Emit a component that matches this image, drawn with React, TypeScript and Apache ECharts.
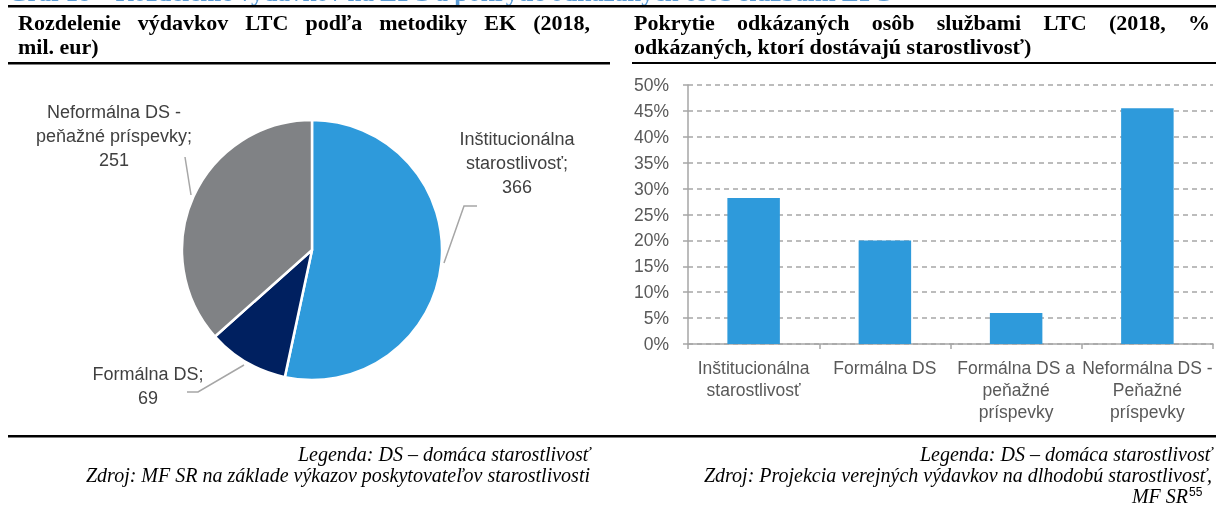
import React, { useEffect, useRef } from "react";
import * as echarts from "echarts";

// ---------- data ----------
const pieNames = ["Inštitucionálna starostlivosť", "Formálna DS", "Neformálna DS - peňažné príspevky"];
const pieLabels = ["Inštitucionálna\nstarostlivosť;\n366", "Formálna DS;\n69", "Neformálna DS -\npeňažné príspevky;\n251"];
const pieValues = [366, 69, 251];
const pieColors = ["#2E9ADB", "#002060", "#808285"];

const barCategories = [
  "Inštitucionálna\nstarostlivosť",
  "Formálna DS",
  "Formálna DS a\npeňažné\npríspevky",
  "Neformálna DS -\nPeňažné\npríspevky",
];
const barValues = [28.2, 20.0, 6.0, 45.5];

const headerText = "Graf 18 – Rozdelenie výdavkov na LTC a pokrytie odkázaných osôb službami LTC";
const leftTitle1 = "Rozdelenie výdavkov LTC podľa metodiky EK (2018,";
const leftTitle2 = "mil. eur)";
const rightTitle1 = "Pokrytie odkázaných osôb službami LTC (2018, %";
const rightTitle2 = "odkázaných, ktorí dostávajú starostlivosť)";
const leftFoot1 = "Legenda: DS – domáca starostlivosť";
const leftFoot2 = "Zdroj: MF SR na základe výkazov poskytovateľov starostlivosti";
const rightFoot1 = "Legenda: DS – domáca starostlivosť";
const rightFoot2 = "Zdroj: Projekcia verejných výdavkov na dlhodobú starostlivosť,";
const rightFoot3 = "MF SR";
const rightFoot3Sup = "55";

// label layout (positions only)
const pieLabelPos = [
  [517, 163],
  [148, 386],
  [114, 136],
];
const pieLabelLines = [
  [[444, 263], [464, 206], [477, 206]],
  [[244, 365], [198, 392], [187, 392]],
  [[191, 195], [185, 157]],
];

const SERIF = "'Liberation Serif', 'Times New Roman', serif";
const SANS = "'Liberation Sans', Arial, sans-serif";

function justify(text: string, x0: number, x1: number, y: number, font: string, style: any) {
  const words = text.split(" ");
  const c = document.createElement("canvas").getContext("2d")!;
  c.font = font;
  const widths = words.map((w) => c.measureText(w).width);
  const total = widths.reduce((a, b) => a + b, 0);
  const gap = words.length > 1 ? (x1 - x0 - total) / (words.length - 1) : 0;
  let x = x0;
  return words.map((w, i) => {
    const el = {
      type: "text",
      x,
      y,
      style: { ...style, text: w, textAlign: "left", textVerticalAlign: "middle" },
    };
    x += widths[i] + gap;
    return el;
  });
}

export default function App() {
  const ref = useRef<HTMLDivElement>(null);
  useEffect(() => {
    const chart = echarts.init(ref.current!, null, { renderer: "svg" });
    const titleFont = `bold 22px ${SERIF}`;
    const titleStyle = { font: titleFont, fill: "#000" };
    const footStyle = { font: `italic 20px ${SERIF}`, fill: "#000", textAlign: "right", textVerticalAlign: "middle" };

    const graphics: any[] = [
      {
        type: "text",
        x: 8,
        y: -8,
        style: { text: headerText, font: `bold 25px ${SERIF}`, fill: "#5B9BD5", textVerticalAlign: "middle" },
      },
      { type: "rect", shape: { x: 8, y: 5, width: 1208, height: 2.5 }, style: { fill: "#000" } },
      ...justify(leftTitle1, 18, 590, 22, titleFont, titleStyle),
      { type: "text", x: 18, y: 46, style: { ...titleStyle, text: leftTitle2, textVerticalAlign: "middle" } },
      { type: "rect", shape: { x: 8, y: 62, width: 602, height: 2.5 }, style: { fill: "#000" } },
      ...justify(rightTitle1, 634, 1210, 22, titleFont, titleStyle),
      { type: "text", x: 634, y: 46, style: { ...titleStyle, text: rightTitle2, textVerticalAlign: "middle" } },
      { type: "rect", shape: { x: 632, y: 62, width: 584, height: 2 }, style: { fill: "#000" } },
      { type: "rect", shape: { x: 8, y: 435, width: 1208, height: 2.5 }, style: { fill: "#000" } },
      { type: "text", x: 590, y: 454, style: { ...footStyle, text: leftFoot1 } },
      { type: "text", x: 590, y: 475, style: { ...footStyle, text: leftFoot2 } },
      { type: "text", x: 1212, y: 454, style: { ...footStyle, text: rightFoot1 } },
      { type: "text", x: 1212, y: 475, style: { ...footStyle, text: rightFoot2 } },
      { type: "text", x: 1188, y: 496, style: { ...footStyle, text: rightFoot3 } },
      {
        type: "text",
        x: 1189,
        y: 492,
        style: { text: rightFoot3Sup, font: `12px ${SANS}`, fill: "#000", textAlign: "left", textVerticalAlign: "middle" },
      },
    ];

    chart.setOption({
      animation: false,
      textStyle: { fontFamily: SANS },
      graphic: graphics,
      grid: { left: 688, right: 3, top: 85, bottom: 162, containLabel: false },
      xAxis: {
        type: "category",
        data: barCategories,
        boundaryGap: true,
        axisLine: { show: true, lineStyle: { color: "#A6A6A6", width: 1.5 } },
        axisTick: { show: true, interval: 0, length: 5, lineStyle: { color: "#A6A6A6", width: 1.5 } },
        axisLabel: {
          interval: 0,
          margin: 13,
          color: "#595959",
          fontSize: 17.5,
          lineHeight: 22,
          fontFamily: SANS,
        },
      },
      yAxis: {
        type: "value",
        min: 0,
        max: 50,
        interval: 5,
        axisLine: { show: true, lineStyle: { color: "#A6A6A6", width: 1.5 } },
        axisTick: { show: true, length: 5, lineStyle: { color: "#A6A6A6", width: 1.5 } },
        axisLabel: { formatter: "{value}%", color: "#595959", fontSize: 17.5, margin: 19, fontFamily: SANS },
        splitLine: { show: true, lineStyle: { color: "#A6A6A6", type: [5, 4], width: 1.5 } },
      },
      series: [
        {
          type: "bar",
          data: barValues,
          barWidth: "40%",
          itemStyle: { color: "#2E9ADB" },
        },
        {
          type: "pie",
          center: [312, 250],
          radius: 130,
          startAngle: 90,
          clockwise: true,
          data: pieValues.map((v, i) => ({
            name: pieNames[i],
            value: v,
            itemStyle: { color: pieColors[i] },
            label: { formatter: pieLabels[i] },
          })),
          itemStyle: { borderColor: "#fff", borderWidth: 2.5 },
          label: {
            show: true,
            color: "#404040",
            fontSize: 18,
            lineHeight: 24,
            fontFamily: SANS,
            align: "center",
            overflow: "none",
          },
          labelLine: { show: true, length: 15, length2: 10, lineStyle: { color: "#A6A6A6", width: 1.5 } },
          labelLayout: (p: any) => ({
            x: pieLabelPos[p.dataIndex][0],
            y: pieLabelPos[p.dataIndex][1],
            align: "center",
            verticalAlign: "middle",
            labelLinePoints: pieLabelLines[p.dataIndex],
          }),
        },
      ],
    });
    return () => chart.dispose();
  }, []);
  return <div ref={ref} style={{ position: "fixed", left: 0, top: 0, width: 1216, height: 506 }} />;
}
